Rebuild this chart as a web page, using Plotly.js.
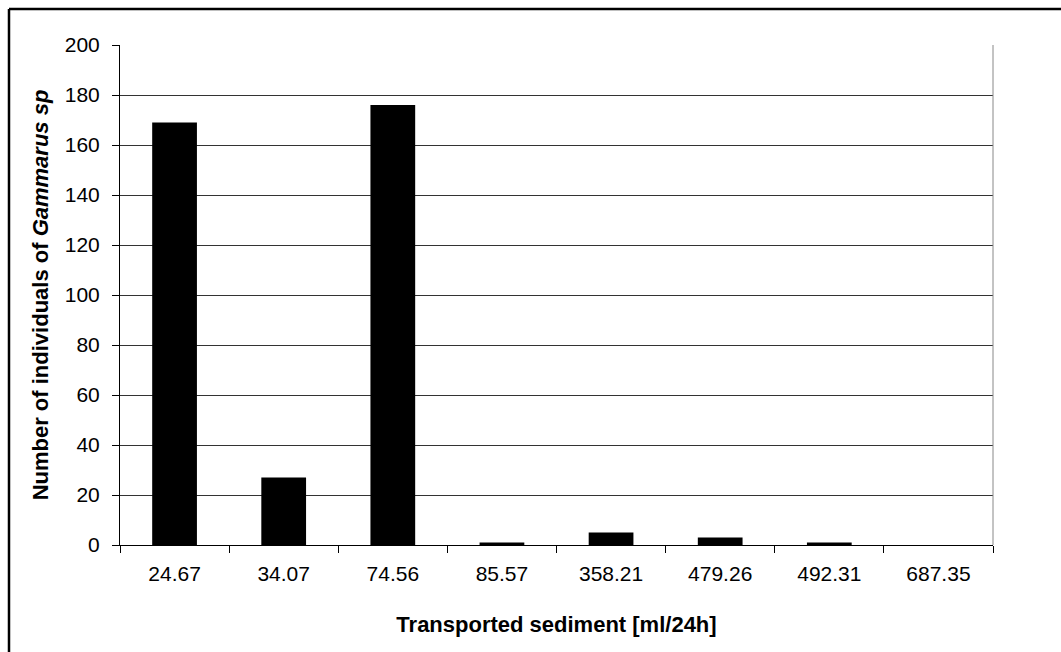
<!DOCTYPE html>
<html>
<head>
<meta charset="utf-8">
<script src="https://cdn.plot.ly/plotly-3.0.1.min.js"></script>
<style>html,body{margin:0;padding:0;background:#fff;}#chart{width:1061px;height:652px;}</style>
</head>
<body>
<div id="chart"></div>
<script>
var categories = ["24.67", "34.07", "74.56", "85.57", "358.21", "479.26", "492.31", "687.35"];
var individuals = [169, 27, 176, 1, 5, 3, 1, 0];
var yTicks = [0, 20, 40, 60, 80, 100, 120, 140, 160, 180, 200];

var tickFont = {family: "Liberation Sans, Arial, sans-serif", size: 21, color: "#000"};
var titleFont = {family: "Liberation Sans, Arial, sans-serif", size: 22, color: "#000"};

var trace = {
  type: "bar",
  x: categories,
  y: individuals,
  marker: {color: "#000", line: {width: 0}},
  hoverinfo: "x+y"
};

var layout = {
  width: 1061, height: 652,
  margin: {l: 120, r: 68, t: 45, b: 107},
  paper_bgcolor: "#fff", plot_bgcolor: "#fff",
  font: tickFont,
  bargap: 0.59,
  showlegend: false,
  xaxis: {
    type: "category",
    tickson: "boundaries",
    ticks: "outside", ticklen: 7, tickcolor: "#000", tickwidth: 1,
    showline: true, linecolor: "#000", linewidth: 1,
    showgrid: false,
    tickfont: tickFont,
    ticklabelstandoff: 10,
    title: {text: "<b>Transported sediment [ml/24h]</b>", font: titleFont, standoff: 32}
  },
  yaxis: {
    range: [0, 200],
    tickvals: yTicks,
    ticktext: yTicks.map(String),
    ticks: "outside", ticklen: 7, tickcolor: "#000", tickwidth: 1,
    showline: true, linecolor: "#000", linewidth: 1,
    showgrid: true, gridcolor: "#333", gridwidth: 1,
    zeroline: false,
    tickfont: tickFont,
    ticklabelstandoff: 8,
    title: {text: "<b>Number of individuals of <i>Gammarus sp</i></b>", font: titleFont, standoff: 10}
  },
  shapes: [
    {type: "line", xref: "paper", yref: "paper", x0: 1, x1: 1, y0: 0, y1: 1, line: {color: "#888", width: 1}},
    {type: "line", xref: "paper", yref: "paper", x0: -0.12715, x1: 1.2, y0: 1.072, y1: 1.072, line: {color: "#000", width: 2.5}},
    {type: "line", xref: "paper", yref: "paper", x0: -0.12715, x1: -0.12715, y0: 1.072, y1: -0.3, line: {color: "#000", width: 2.5}}
  ]
};

Plotly.newPlot("chart", [trace], layout, {displayModeBar: false, staticPlot: true});
</script>
</body>
</html>
